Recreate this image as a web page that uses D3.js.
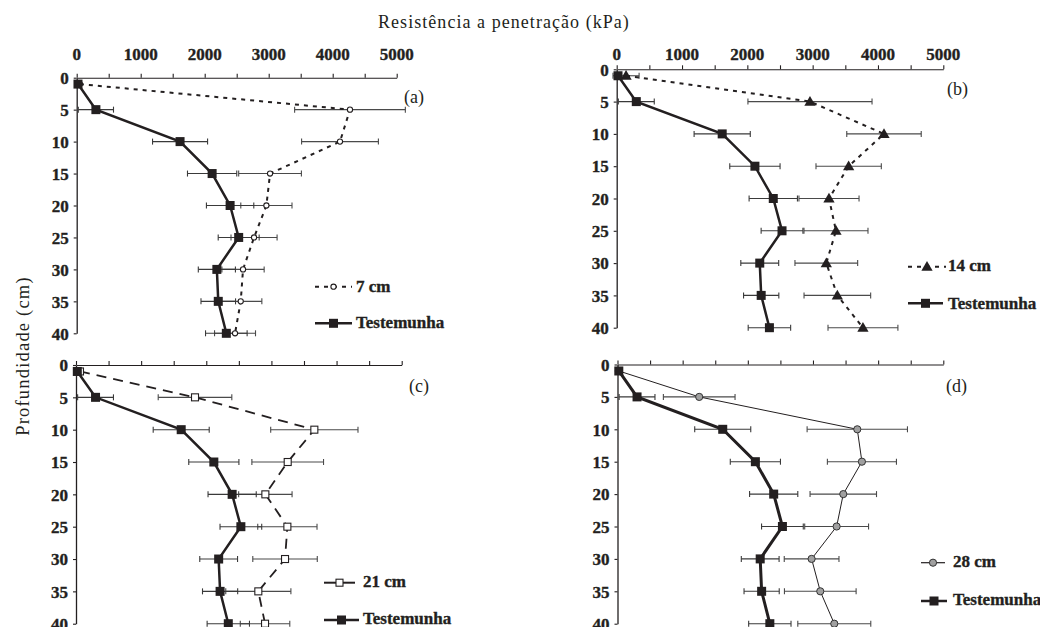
<!DOCTYPE html>
<html>
<head>
<meta charset="utf-8">
<script src="https://cdn.jsdelivr.net/npm/d3@7"></script>
<style>
  html, body { margin: 0; padding: 0; background: #fff; }
  svg { display: block; }
  svg text { font-family: 'Liberation Serif', 'Times New Roman', Times, serif !important; fill: #231f20; }
</style>
</head>
<body>
<svg id="chart" width="1040" height="627"></svg>
<script>
// ---------------- DATA ----------------
const depths = [1, 5, 10, 15, 20, 25, 30, 35, 40];
const xTickLabels = [0, 1000, 2000, 3000, 4000, 5000];
const yTickLabels = [0, 5, 10, 15, 20, 25, 30, 35, 40];

const testemunha    = [20, 300, 1615, 2116, 2397, 2531, 2190, 2212, 2338];
const testemunhaErr = [0, 275, 430, 385, 370, 320, 290, 270, 325];

const cm7     = [50, 4270, 4114, 3021, 2964, 2771, 2599, 2563, 2474];
const cm7Err  = [0, 865, 600, 490, 400, 360, 330, 330, 320];

const cm14    = [143, 2959, 4092, 3551, 3250, 3357, 3209, 3378, 3770];
const cm14Err = [200, 950, 570, 500, 460, 490, 480, 510, 535];

const cm21    = [61, 1827, 3659, 3250, 2907, 3245, 3209, 2799, 2902];
const cm21Err = [0, 565, 670, 550, 410, 455, 495, 500, 380];

const cm28    = [20, 1254, 3680, 3751, 3465, 3363, 2979, 3112, 3327];
const cm28Err = [0, 550, 770, 530, 510, 490, 420, 550, 560];

const seriesNames = ["7 cm", "14 cm", "21 cm", "28 cm", "Testemunha"];
const titleX = "Resistência a penetração (kPa)";
const titleY = "Profundidade (cm)";

// ---------------- DRAW ----------------
const svg = d3.select("#chart");
const ink = "#231f20";
const FONT = "'Liberation Serif', 'Times New Roman', Times, serif";

svg.append("text").attr("x", 378).attr("y", 28).style("font-family", FONT)
  .attr("font-size", 18).attr("letter-spacing", "1.05px").text(titleX);

svg.append("text").style("font-family", FONT)
  .attr("transform", "translate(29,356) rotate(-90)")
  .attr("text-anchor", "middle").attr("font-size", 18.5).attr("letter-spacing", "1.2px")
  .text(titleY);

function boldText(sel) {
  return sel.style("font-family", FONT).attr("font-size", 17).attr("font-weight", "bold")
    .attr("stroke", ink).attr("stroke-width", 0.35);
}

function marker(g, type, x, y) {
  if (type === "square") {
    g.append("rect").attr("x", x - 4.5).attr("y", y - 4.5).attr("width", 9).attr("height", 9).attr("fill", ink);
  } else if (type === "openSquare") {
    g.append("rect").attr("x", x - 3.5).attr("y", y - 3.5).attr("width", 7).attr("height", 7)
      .attr("fill", "#fff").attr("stroke", ink).attr("stroke-width", 1.1);
  } else if (type === "openCircle") {
    g.append("circle").attr("cx", x).attr("cy", y).attr("r", 2.6)
      .attr("fill", "#fff").attr("stroke", ink).attr("stroke-width", 1.1);
  } else if (type === "triangle") {
    g.append("path").attr("d", d3.symbol(d3.symbolTriangle, 55)()).attr("transform", `translate(${x},${y + 0.8})`)
      .attr("fill", ink);
  } else if (type === "grayCircle") {
    g.append("circle").attr("cx", x).attr("cy", y).attr("r", 3.6)
      .attr("fill", "#a0a0a0").attr("stroke", "#333").attr("stroke-width", 1);
  }
}

function drawPanel(p) {
  const g = svg.append("g");
  const x = d3.scaleLinear().domain([0, 5000]).range([p.x0, p.x1]);
  const y = d3.scaleLinear().domain([0, 40]).range([p.y0, p.y1]);

  // x axis (ticks upward)
  const xAxis = d3.axisTop(x).tickValues(d3.range(0, 5001, 500)).tickSize(4).tickSizeOuter(0).tickFormat("");
  const xa = g.append("g").attr("transform", `translate(0,${p.y0})`).call(xAxis);
  xa.selectAll("path, line").attr("stroke", ink).attr("stroke-width", 1.1);
  if (p.xLabels) {
    xTickLabels.forEach(v => {
      boldText(g.append("text").attr("x", x(v)).attr("y", 60).attr("text-anchor", "middle")).text(v);
    });
  }
  // y axis
  const yAxis = d3.axisLeft(y).tickValues(yTickLabels).tickSize(3).tickSizeOuter(0).tickPadding(5);
  const ya = g.append("g").attr("transform", `translate(${p.x0},0)`).call(yAxis);
  ya.select(".domain").attr("stroke", ink).attr("stroke-width", 1.3);
  ya.selectAll("line").attr("stroke", ink).attr("stroke-width", 1.1);
  boldText(ya.selectAll("text")).attr("fill", ink).attr("dy", "0.34em");

  // panel label
  g.append("text").attr("x", p.lx).attr("y", p.ly).style("font-family", FONT).attr("font-size", 18).text(p.label);

  // error bars
  const errs = [
    { vals: p.vals, err: p.err, col: "#4a4a4a" },
    { vals: testemunha, err: testemunhaErr, col: "#3a3a3a" }
  ];
  errs.forEach(s => {
    s.vals.forEach((v, i) => {
      const e = s.err[i];
      if (!e) return;
      const yy = y(depths[i]);
      g.append("line").attr("x1", x(v - e)).attr("x2", x(v + e)).attr("y1", yy).attr("y2", yy)
        .attr("stroke", s.col).attr("stroke-width", 1.1);
      [v - e, v + e].forEach(c => {
        g.append("line").attr("x1", x(c)).attr("x2", x(c)).attr("y1", yy - 3).attr("y2", yy + 3)
          .attr("stroke", s.col).attr("stroke-width", 1.1);
      });
    });
  });

  const line = d3.line().x(d => x(d[0])).y(d => y(d[1]));
  // treatment line
  g.append("path").datum(p.vals.map((v, i) => [v, depths[i]])).attr("d", line)
    .attr("fill", "none").attr("stroke", ink).attr("stroke-width", p.sw)
    .attr("stroke-dasharray", p.dash || null);
  // control line
  g.append("path").datum(testemunha.map((v, i) => [v, depths[i]])).attr("d", line)
    .attr("fill", "none").attr("stroke", ink).attr("stroke-width", p.csw);

  p.vals.forEach((v, i) => marker(g, p.mk, x(v), y(depths[i])));
  testemunha.forEach((v, i) => marker(g, "square", x(v), y(depths[i])));

  // legend
  const L = p.leg;
  g.append("line").attr("x1", L.x1).attr("x2", L.x2).attr("y1", L.y1).attr("y2", L.y1)
    .attr("stroke", ink).attr("stroke-width", p.sw === 1 ? 1.2 : 2).attr("stroke-dasharray", L.dash || null);
  marker(g, p.mk, (L.x1 + L.x2) / 2, L.y1);
  boldText(g.append("text").attr("x", L.tx).attr("y", L.b1)).text(p.name);
  g.append("line").attr("x1", L.x1).attr("x2", L.x2c).attr("y1", L.y2).attr("y2", L.y2)
    .attr("stroke", ink).attr("stroke-width", 2.5);
  marker(g, "square", (L.x1 + L.x2c) / 2, L.y2);
  boldText(g.append("text").attr("x", L.tx).attr("y", L.b2)).text(seriesNames[4]);
}

drawPanel({ x0: 76.7, x1: 396.7, y0: 77.7, y1: 333.3, xLabels: true, label: "(a)", lx: 404, ly: 102.7,
  vals: cm7, err: cm7Err, mk: "openCircle", sw: 2, dash: "4,5", csw: 2.5, name: seriesNames[0],
  leg: { x1: 315, x2: 352, x2c: 352, y1: 286.7, y2: 323.3, tx: 356, b1: 291.7, b2: 328, dash: "4,5" } });

drawPanel({ x0: 616.7, x1: 943.3, y0: 69.3, y1: 327.7, xLabels: true, label: "(b)", lx: 947, ly: 95,
  vals: cm14, err: cm14Err, mk: "triangle", sw: 2, dash: "4,5", csw: 2.5, name: seriesNames[1],
  leg: { x1: 908, x2: 946, x2c: 943, y1: 266.7, y2: 303.3, tx: 948, b1: 270.7, b2: 308.5, dash: "4,5" } });

drawPanel({ x0: 76, x1: 401.7, y0: 365, y1: 623.7, xLabels: false, label: "(c)", lx: 409, ly: 391.7,
  vals: cm21, err: cm21Err, mk: "openSquare", sw: 1.8, dash: "10,7", csw: 2.5, name: seriesNames[2],
  leg: { x1: 324, x2: 355, x2c: 359, y1: 582.7, y2: 620, tx: 363, b1: 587, b2: 623.5 } });

drawPanel({ x0: 617.5, x1: 943.3, y0: 364.5, y1: 623.7, xLabels: false, label: "(d)", lx: 946, ly: 391.7,
  vals: cm28, err: cm28Err, mk: "grayCircle", sw: 1, dash: null, csw: 3, name: seriesNames[3],
  leg: { x1: 921, x2: 945, x2c: 947, y1: 562.7, y2: 601, tx: 953, b1: 567, b2: 605 } });
</script>
</body>
</html>
